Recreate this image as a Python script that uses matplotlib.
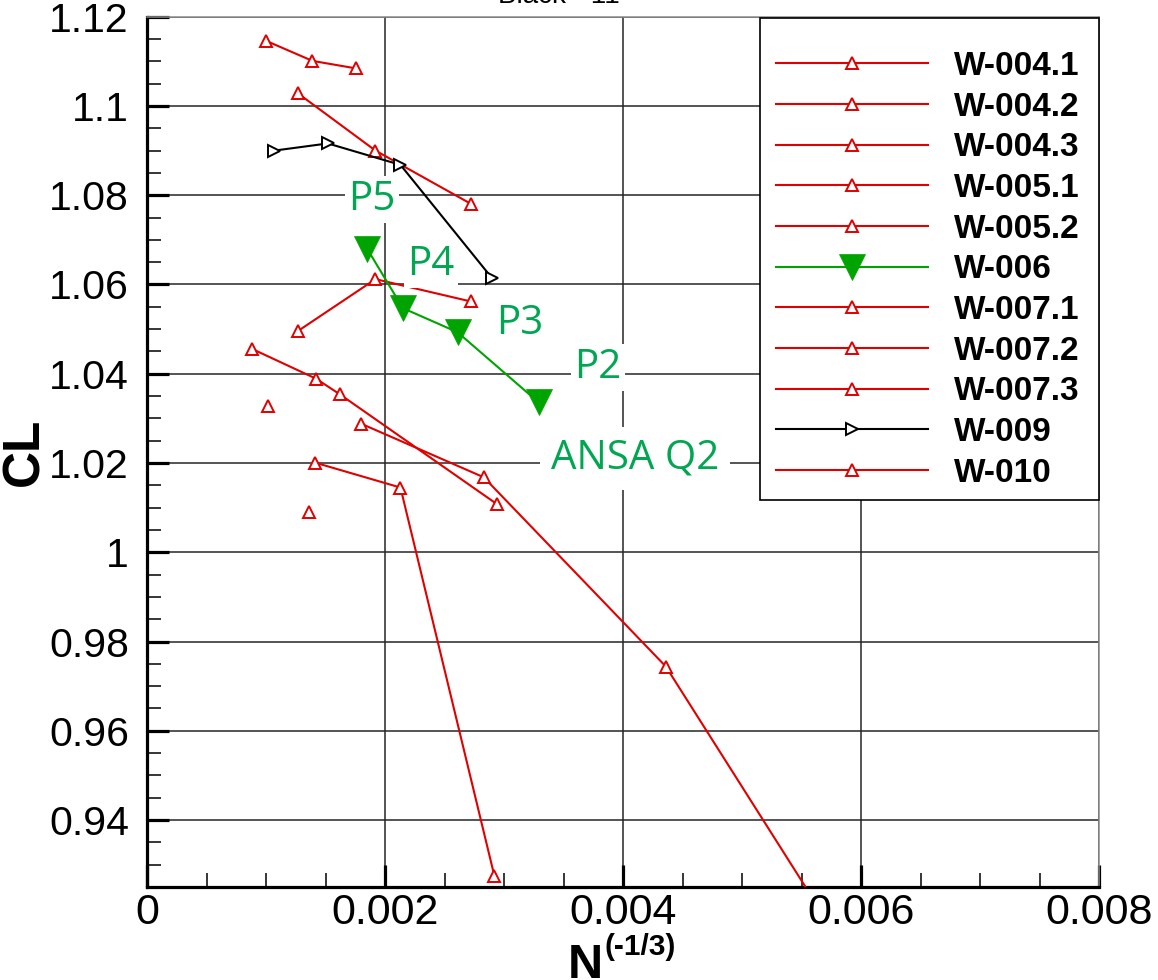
import matplotlib
matplotlib.use("Agg")
import matplotlib.pyplot as plt
from matplotlib.patches import Rectangle
from matplotlib.ticker import MultipleLocator, FormatStrFormatter

# ---- grid-convergence data: N^(-1/3) vs CL ----
x_w0041 = [0.00100, 0.00139, 0.00176]
cl_w0041 = [1.1146, 1.1101, 1.1084]

x_w0042 = [0.00127, 0.00192, 0.00272]
cl_w0042 = [1.1028, 1.0900, 1.0781]

x_w0043 = [0.00127, 0.00192, 0.00272]
cl_w0043 = [1.0496, 1.0612, 1.0562]

x_w0051 = [0.00088, 0.00142, 0.00162, 0.00294]
cl_w0051 = [1.0456, 1.0389, 1.0354, 1.0108]

x_w0052 = [0.00180, 0.00283, 0.00436, 0.00600]
cl_w0052 = [1.0288, 1.0168, 0.9744, 0.9054]

x_w006 = [0.00185, 0.00215, 0.00261, 0.00329]
cl_w006 = [1.0680, 1.0547, 1.0493, 1.0336]

x_w0071 = [0.00141, 0.00213, 0.00292]
cl_w0071 = [1.0201, 1.0145, 0.9274]

x_w0072 = [0.00102]
cl_w0072 = [1.0328]

x_w0073 = [0.00136]
cl_w0073 = [1.0090]

x_w009 = [0.00107, 0.00152, 0.00213, 0.00290]
cl_w009 = [1.0900, 1.0916, 1.0868, 1.0614]

x_w010 = []
cl_w010 = []

labels = ["W-004.1", "W-004.2", "W-004.3", "W-005.1", "W-005.2", "W-006",
          "W-007.1", "W-007.2", "W-007.3", "W-009", "W-010"]

# mesh-level annotations for the W-006 series
ann_text = ["P5", "P4", "P3", "P2", "ANSA Q2"]
ann_x = [0.001891, 0.002387, 0.003134, 0.003790, 0.004101]
ann_y = [1.0790, 1.0644, 1.0512, 1.0414, 1.0210]

RED = "#e00000"
GREEN = "#00a400"
TEXT_GREEN = "#00a651"

W, H = 1158, 980
fig = plt.figure(figsize=(W / 100, H / 100), dpi=100)
ax = fig.add_axes([147 / W, 1 - 887 / H, (1099 - 147) / W, (887 - 16.7) / H])

red_kw = dict(color=RED, lw=1.5, marker="^", ms=8.5, mfc="white",
              mec=RED, mew=1.4)
series = [
    (x_w0041, cl_w0041, red_kw),
    (x_w0042, cl_w0042, red_kw),
    (x_w0043, cl_w0043, red_kw),
    (x_w0051, cl_w0051, red_kw),
    (x_w0052, cl_w0052, red_kw),
    (x_w006, cl_w006, dict(color=GREEN, lw=1.5, marker="v", ms=19,
                           mfc=GREEN, mec=GREEN, mew=0.5)),
    (x_w0071, cl_w0071, red_kw),
    (x_w0072, cl_w0072, red_kw),
    (x_w0073, cl_w0073, red_kw),
    (x_w009, cl_w009, dict(color="black", lw=1.5, marker=">", ms=8.5,
                           mfc="white", mec="black", mew=1.4)),
    (x_w010, cl_w010, red_kw),
]

handles = []
for (xs, ys, kw), lab in zip(series, labels):
    ln, = ax.plot(xs, ys, label=lab, zorder=3, **kw)
    handles.append(ln)

ax.set_xlim(0, 0.008)
ax.set_ylim(0.925, 1.12)
ax.xaxis.set_major_locator(MultipleLocator(0.002))
ax.xaxis.set_minor_locator(MultipleLocator(0.0005))
ax.yaxis.set_major_locator(MultipleLocator(0.02))
ax.yaxis.set_minor_locator(MultipleLocator(0.005))
ax.xaxis.set_major_formatter(FormatStrFormatter("%g"))
ax.yaxis.set_major_formatter(FormatStrFormatter("%g"))

ax.grid(True, which="major", color="#262626", lw=1.1, zorder=1)
ax.set_axisbelow(True)

for side in ("left", "bottom"):
    ax.spines[side].set_linewidth(2.3)
    ax.spines[side].set_color("black")
for side in ("top", "right"):
    ax.spines[side].set_linewidth(1.1)
    ax.spines[side].set_color("#8a8a8a")

ax.tick_params(which="both", direction="in", top=False, right=False)
ax.tick_params(which="major", length=16, width=2.3)
ax.tick_params(which="minor", length=10, width=1.1)
ax.tick_params(axis="x", which="major", labelsize=31, pad=4)
ax.tick_params(axis="y", which="major", labelsize=29.5, pad=13)
for t in ax.get_xticklabels() + ax.get_yticklabels():
    t.set_fontfamily("Liberation Sans")

# green annotations on white boxes
for txt, xv, yv in zip(ann_text, ann_x, ann_y):
    pad = 0.28 if txt == "ANSA Q2" else 0.08
    ax.text(xv, yv, txt, color=TEXT_GREEN, fontsize=29, family="Open Sans",
            ha="center", va="center", zorder=5,
            bbox=dict(boxstyle=f"square,pad={pad}", fc="white", ec="none"))

# axis labels
fig.text(25 / W, 1 - 452 / H, "CL", rotation=90, ha="center", va="center",
         fontsize=37, fontweight="bold", family="Liberation Sans")
fig.text(568 / W, 2 / H, "N", ha="left", va="baseline",
         fontsize=35, fontweight="bold", family="Liberation Sans")
fig.text(604 / W, 25 / H, "(-1/3)", ha="left", va="baseline",
         fontsize=21.5, fontweight="bold", family="Liberation Sans")

# title (runs off the top edge)
fig.text(498 / W, 1 - 3 / H, "Black - 11", ha="left", va="baseline",
         fontsize=20, family="Liberation Sans")

# legend frame and entries
fig.add_artist(Rectangle((760 / W, 1 - 500 / H), (1099 - 760) / W, (500 - 18) / H,
                         transform=fig.transFigure, fc="white", ec="black",
                         lw=1.2, zorder=4))
leg = fig.legend(handles=handles, labels=labels, loc="upper left",
                 bbox_to_anchor=(776 / W, 1 - 51 / H),
                 bbox_transform=fig.transFigure, frameon=False,
                 borderpad=0, borderaxespad=0, numpoints=1,
                 handlelength=4.55, handletextpad=0.8, labelspacing=0.29,
                 prop=dict(family="Liberation Sans", weight="bold", size=24))
leg.set_zorder(6)

fig.savefig("out.png", dpi=100)
